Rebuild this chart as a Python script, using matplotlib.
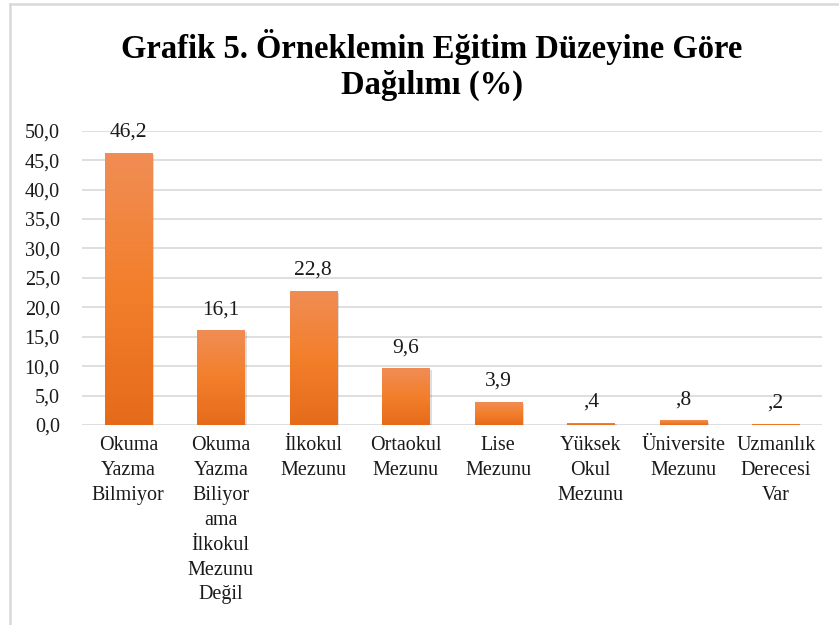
import matplotlib
matplotlib.use("Agg")
import matplotlib.pyplot as plt
import numpy as np
from matplotlib.colors import LinearSegmentedColormap
from matplotlib.lines import Line2D

categories = ["Okuma\nYazma\nBilmiyor", "Okuma\nYazma\nBiliyor\nama\nİlkokul\nMezunu\nDeğil",
              "İlkokul\nMezunu", "Ortaokul\nMezunu", "Lise\nMezunu", "Yüksek\nOkul\nMezunu",
              "Üniversite\nMezunu", "Uzmanlık\nDerecesi\nVar"]
values = [46.2, 16.1, 22.8, 9.6, 3.9, 0.4, 0.8, 0.2]
value_labels = ["46,2", "16,1", "22,8", "9,6", "3,9", ",4", ",8", ",2"]
yticks = [0, 5, 10, 15, 20, 25, 30, 35, 40, 45, 50]
ytick_labels = ["0,0", "5,0", "10,0", "15,0", "20,0", "25,0", "30,0", "35,0", "40,0", "45,0", "50,0"]
title = "Grafik 5. Örneklemin Eğitim Düzeyine Göre\nDağılımı (%)"

plt.rcParams['font.family'] = ['Liberation Serif', 'DejaVu Serif']

fig = plt.figure(figsize=(8.39, 6.25), dpi=100)
ax = fig.add_axes([82/839, 200/625, 740/839, (425-130.7)/625])

grad_cmap = LinearSegmentedColormap.from_list("g", ["#E56B1A", "#F37F2B", "#F08D55"])
x = np.arange(len(categories))
bw = 0.51
# shadows
ax.bar(x + 0.025, values, bw, bottom=-0.3, color="#000000", alpha=0.13, zorder=2, linewidth=0)
bars = ax.bar(x, values, bw, color="#F07F2E", zorder=3, linewidth=0)
grad = np.linspace(0, 1, 256).reshape(-1, 1)
for b in bars:
    bx, by = b.get_x(), b.get_y()
    w, h = b.get_width(), b.get_height()
    im = ax.imshow(grad, cmap=grad_cmap, origin='lower', aspect='auto',
                   extent=[bx, bx + w, by, by + h], zorder=4)
    im.set_clip_path(b)

for xi, v, lab in zip(x, values, value_labels):
    ax.annotate(lab, (xi, v), xytext=(0, 8), textcoords='offset points',
                ha='center', va='bottom', fontsize=15.5, color='#1a1a1a')

ax.set_xlim(-0.5, len(categories) - 0.5)
ax.set_ylim(0, 50)
ax.set_yticks(yticks)
ax.set_yticklabels(ytick_labels, fontsize=14.5)
ax.set_xticks(x)
ax.set_xticklabels(categories, fontsize=14.5, linespacing=1.42)
ax.tick_params(axis='both', length=0, colors='#1a1a1a')
ax.tick_params(axis='y', pad=16)
ax.tick_params(axis='x', pad=8)
ax.yaxis.grid(True, color='#D9D9D9', linewidth=1.2, zorder=0)
ax.set_axisbelow(True)
for s in ax.spines.values():
    s.set_visible(False)

fig.text(0.515, 1 - 65/625, title, ha='center', va='center', fontsize=23.5,
         fontweight='bold', linespacing=1.2)

fig.add_artist(Line2D([9.5/839, 9.5/839], [0, 1 - 3.5/625], transform=fig.transFigure,
                      color='#D9D9D9', linewidth=1.8))
fig.add_artist(Line2D([9.5/839, 1], [1 - 3.5/625, 1 - 3.5/625], transform=fig.transFigure,
                      color='#D9D9D9', linewidth=1.8))

fig.savefig("out.png", dpi=100)
